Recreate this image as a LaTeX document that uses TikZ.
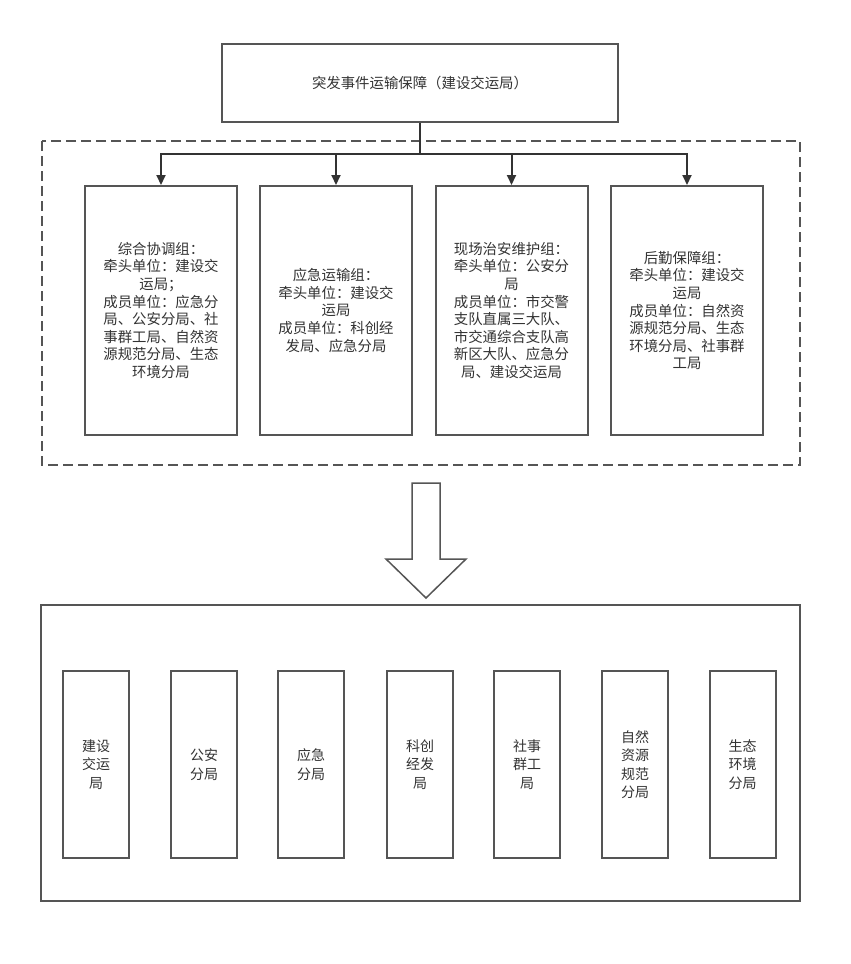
\documentclass[tikz,border=0pt]{standalone}
\usepackage{fontspec}
\newfontfamily\cjk{Noto Sans CJK SC}
\usetikzlibrary{arrows.meta}
\definecolor{edge}{HTML}{555555}
\definecolor{txt}{HTML}{333333}
\tikzset{
  box/.style={draw=edge, line width=2pt, fill=white, inner sep=0pt, align=center,
    text=txt, font=\cjk\fontsize{14.4}{17.6}\selectfont},
  groupbox/.style={box, minimum width=152pt, minimum height=249pt},
  unitbox/.style={box, minimum width=66pt, minimum height=187pt, font=\cjk\fontsize{14}{18.5}\selectfont},
  conn/.style={draw=black!80, line width=2pt, -{Triangle[length=10pt,width=9pt]}},
}
\begin{document}
\begin{tikzpicture}[x=1pt,y=-1pt]
\useasboundingbox (0,0) rectangle (851,964);
% dashed container
\draw[draw=edge, line width=2pt, dash pattern=on 10pt off 5pt] (42,141) rectangle (800,465);
% top node
\node[box, minimum width=396pt, minimum height=78pt] (top) at (420,83) {突发事件运输保障（建设交运局）};
\coordinate (bus) at (420,154);
% groups
\node[groupbox] (g1) at (161,310.5) {综合协调组：\\牵头单位：建设交\\运局；\\成员单位：应急分\\局、公安分局、社\\事群工局、自然资\\源规范分局、生态\\环境分局};
\node[groupbox] (g2) at (336,310.5) {应急运输组：\\牵头单位：建设交\\运局\\成员单位：科创经\\发局、应急分局};
\node[groupbox] (g3) at (511.5,310.5) {现场治安维护组：\\牵头单位：公安分\\局\\成员单位：市交警\\支队直属三大队、\\市交通综合支队高\\新区大队、应急分\\局、建设交运局};
\node[groupbox] (g4) at (687,310.5) {后勤保障组：\\牵头单位：建设交\\运局\\成员单位：自然资\\源规范分局、生态\\环境分局、社事群\\工局};
% connectors
\draw[draw=black!80, line width=2pt] (top.south) -- (bus);
\foreach \g in {g1,g2,g3,g4} \draw[conn] (bus) -| (\g.north);
% hollow arrow
\draw[draw=edge, line width=1.5pt, fill=white, line join=miter]
  (412,483) -- (440,483) -- (440,559) -- (466,559) -- (426,598) -- (386,559) -- (412,559) -- cycle;
% bottom frame
\node[draw=edge, line width=2pt, minimum width=759pt, minimum height=296pt, inner sep=0pt] (frame) at (420.5,753) {};
\node[unitbox] (u1) at (96,764.5) {建设\\交运\\局};
\node[unitbox] (u2) at (204,764.5) {公安\\分局};
\node[unitbox] (u3) at (311,764.5) {应急\\分局};
\node[unitbox] (u4) at (420,764.5) {科创\\经发\\局};
\node[unitbox] (u5) at (527,764.5) {社事\\群工\\局};
\node[unitbox] (u6) at (635,764.5) {自然\\资源\\规范\\分局};
\node[unitbox] (u7) at (742.5,764.5) {生态\\环境\\分局};
\end{tikzpicture}
\end{document}
